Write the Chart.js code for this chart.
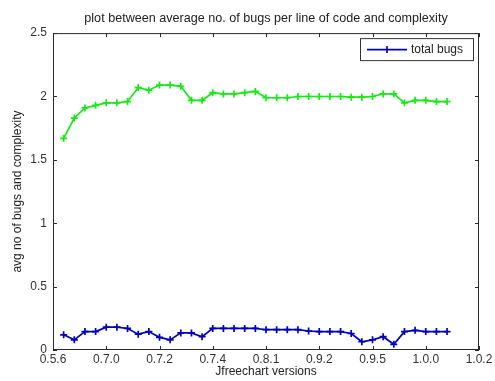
<!DOCTYPE html>
<html>
<head>
<meta charset="utf-8">
<script src="https://cdn.jsdelivr.net/npm/chart.js@4.4.1/dist/chart.umd.min.js"></script>
<style>
  html, body { margin: 0; padding: 0; background: #ffffff; }
  #wrap { width: 495px; height: 381px; }
</style>
</head>
<body>
<div id="wrap"><canvas id="bugChart"></canvas></div>
<script>
// build index along the x axis (0..40), labelled every 5 builds with a version
const builds = [1, 2, 3, 4, 5, 6, 7, 8, 9, 10, 11, 12, 13, 14, 15, 16, 17, 18, 19,
  20, 21, 22, 23, 24, 25, 26, 27, 28, 29, 30, 31, 32, 33, 34, 35, 36, 37];
const versionLabels = ['0.5.6', '0.7.0', '0.7.2', '0.7.4', '0.8.1', '0.9.2', '0.9.5', '1.0.0', '1.0.2'];
const yTicks = [0, 0.5, 1, 1.5, 2, 2.5];

const complexity = [1.67, 1.83, 1.91, 1.93, 1.95, 1.95, 1.96, 2.07, 2.05, 2.09,
  2.09, 2.08, 1.97, 1.97, 2.03, 2.02, 2.02, 2.03, 2.04, 1.99,
  1.99, 1.99, 2.0, 2.0, 2.0, 2.0, 2.0, 1.995, 1.995, 2.0,
  2.02, 2.02, 1.95, 1.97, 1.97, 1.96, 1.96];
const totalBugs = [0.12, 0.08, 0.145, 0.145, 0.18, 0.18, 0.17, 0.125, 0.145, 0.10,
  0.08, 0.135, 0.135, 0.105, 0.17, 0.17, 0.17, 0.17, 0.17, 0.16,
  0.16, 0.16, 0.16, 0.15, 0.145, 0.145, 0.145, 0.13, 0.065, 0.08,
  0.105, 0.045, 0.145, 0.155, 0.145, 0.145, 0.145];

const FONT = 'Liberation Sans, Arial, sans-serif';
const AXIS_COLOR = '#2b2b2b';
const GREEN = 'rgb(20, 235, 20)';
const BLUE = 'rgb(0, 0, 195)';

// matlab style box around the axes with inward tick marks, plus the boxed legend
const matlabAxes = {
  id: 'matlabAxes',
  afterDraw(chart) {
    const { ctx, chartArea: a, scales } = chart;
    ctx.save();
    ctx.strokeStyle = AXIS_COLOR;
    ctx.lineWidth = 1;
    ctx.strokeRect(a.left + 0.5, a.top + 0.5, a.right - a.left - 1, a.bottom - a.top - 1);

    const len = 4;
    ctx.beginPath();
    scales.x.ticks.forEach((t) => {
      const px = Math.round(scales.x.getPixelForValue(t.value)) + 0.5;
      ctx.moveTo(px, a.bottom); ctx.lineTo(px, a.bottom - len);
      ctx.moveTo(px, a.top); ctx.lineTo(px, a.top + len);
    });
    scales.y.ticks.forEach((t) => {
      const py = Math.round(scales.y.getPixelForValue(t.value)) + 0.5;
      ctx.moveTo(a.left, py); ctx.lineTo(a.left + len, py);
      ctx.moveTo(a.right, py); ctx.lineTo(a.right - len, py);
    });
    ctx.stroke();

    // legend (only the blue series is listed)
    const ds = chart.data.datasets[1];
    const bx = a.right - 119, by = a.top + 5, bw = 113, bh = 22;
    ctx.fillStyle = '#ffffff';
    ctx.fillRect(bx, by, bw, bh);
    ctx.strokeStyle = '#333333';
    ctx.strokeRect(bx + 0.5, by + 0.5, bw, bh);

    const ly = by + bh / 2 + 0.5;
    ctx.strokeStyle = ds.borderColor;
    ctx.lineWidth = 1.6;
    ctx.beginPath();
    ctx.moveTo(bx + 7, ly); ctx.lineTo(bx + 47, ly);
    ctx.moveTo(bx + 27, ly - 3.5); ctx.lineTo(bx + 27, ly + 3.5);
    ctx.moveTo(bx + 23.5, ly); ctx.lineTo(bx + 30.5, ly);
    ctx.stroke();

    ctx.fillStyle = '#222222';
    ctx.font = '12px ' + FONT;
    ctx.textBaseline = 'middle';
    ctx.fillText(ds.label, bx + 51, ly);
    ctx.restore();
  },
};

const markerStyle = {
  pointStyle: 'cross',
  pointRadius: 3.5,
  pointHoverRadius: 3.5,
  borderWidth: 1.7,
  pointBorderWidth: 1.7,
  tension: 0,
  fill: false,
};

new Chart(document.getElementById('bugChart'), {
  type: 'line',
  data: {
    datasets: [
      {
        label: 'complexity',
        data: builds.map((b, i) => ({ x: b, y: complexity[i] })),
        borderColor: GREEN,
        backgroundColor: GREEN,
        ...markerStyle,
      },
      {
        label: 'total bugs',
        data: builds.map((b, i) => ({ x: b, y: totalBugs[i] })),
        borderColor: BLUE,
        backgroundColor: BLUE,
        ...markerStyle,
      },
    ],
  },
  options: {
    responsive: true,
    maintainAspectRatio: false,
    animation: false,
    layout: { padding: { left: 0, right: 16, top: 0, bottom: 0 } },
    plugins: {
      legend: { display: false },
      tooltip: { enabled: false },
      title: {
        display: true,
        fullSize: false,
        text: 'plot between average no. of bugs per line of code and complexity',
        color: '#222222',
        font: { family: FONT, size: 12.6, weight: 'normal' },
        padding: { top: 11, bottom: 7 },
      },
    },
    scales: {
      x: {
        type: 'linear',
        min: 0,
        max: 40,
        afterBuildTicks(scale) {
          scale.ticks = versionLabels.map((_, i) => ({ value: i * 5 }));
        },
        afterFit(scale) { scale.height = 31; },
        grid: { display: false, drawTicks: false },
        border: { display: false },
        ticks: {
          color: '#333333',
          font: { family: FONT, size: 12 },
          padding: 2,
          maxRotation: 0,
          autoSkip: false,
          callback(value) {
            return versionLabels[Math.round(value / 5)];
          },
        },
        title: {
          display: true,
          text: 'Jfreechart versions',
          color: '#222222',
          font: { family: FONT, size: 12 },
          padding: { top: 0, bottom: 2 },
        },
      },
      y: {
        min: 0,
        max: 2.5,
        afterBuildTicks(scale) {
          scale.ticks = yTicks.map((v) => ({ value: v }));
        },
        afterFit(scale) { scale.width = 53; },
        grid: { display: false, drawTicks: false },
        border: { display: false },
        ticks: {
          color: '#333333',
          font: { family: FONT, size: 12 },
          padding: 6,
          callback(value) {
            return String(value);
          },
        },
        title: {
          display: true,
          text: 'avg no of bugs and complexity',
          color: '#222222',
          font: { family: FONT, size: 12 },
          padding: { top: 10, bottom: 0 },
        },
      },
    },
  },
  plugins: [matlabAxes],
});
</script>
</body>
</html>
